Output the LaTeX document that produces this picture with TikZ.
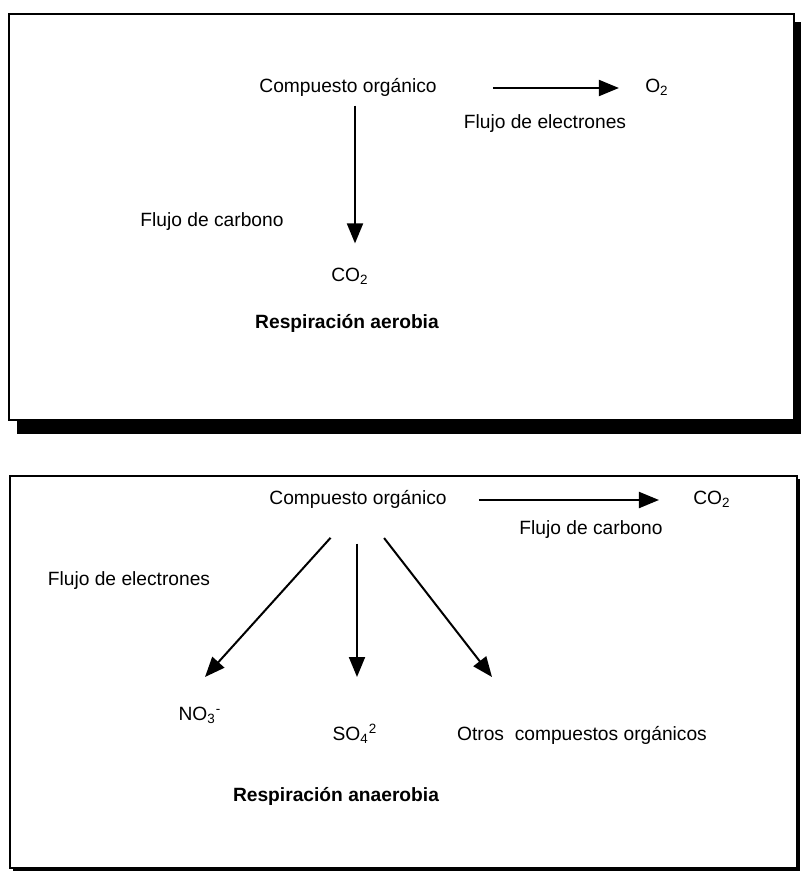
\documentclass[tikz,border=0pt]{standalone}
\usepackage{fontspec}
\setmainfont{Liberation Sans}
\usetikzlibrary{arrows.meta, positioning}

\begin{document}
\begin{tikzpicture}[
  x=0.5pt, y=-0.5pt,
  every node/.style={font=\fontsize{9.6}{11}\selectfont, inner sep=0pt,
                     text height=7pt, text depth=2.2pt},
  flow/.style={line width=1pt, -{Triangle[length=10pt, width=8pt]}},
  frame/.style={draw=black, line width=1pt, fill=white}
]
\useasboundingbox (0,0) rectangle (801,872);

% Top panel with heavy shadow
\fill[black] (17,22) rectangle (801,434);
\draw[frame] (9,14) rectangle (794,420);

% Bottom panel
\fill[black] (13,479) rectangle (800,871);
\draw[frame] (10,476) rectangle (797,868);

% Aerobic respiration
\node (comp1) at (348,88) {Compuesto orgánico};
\node (o2) at (657,88) {O\textsubscript{2}};
\node (flujoE1) at (545,124) {Flujo de electrones};
\node (flujoC1) at (212,222) {Flujo de carbono};
\node (co2a) at (350,277) {CO\textsubscript{2}};
\node[font=\fontsize{9.6}{11}\selectfont\bfseries] (resp1) at (347,324) {Respiración aerobia};

\draw[flow, shorten <=28pt, shorten >=13pt] (comp1.east) -- (o2.west);
\draw[flow, shorten <=4pt, shorten >=12pt] (comp1.south -| 355,0) -- (co2a.north -| 355,0);

% Anaerobic respiration
\node (comp2) at (358,500) {Compuesto orgánico};
\node (co2b) at (712,500) {CO\textsubscript{2}};
\node (flujoC2) at (591,530) {Flujo de carbono};
\node (flujoE2) at (129,581) {Flujo de electrones};
\node (no3) at (200,716) {NO\textsubscript{3}\textsuperscript{-}};
\node (so4) at (355,736) {SO\textsubscript{4}\textsuperscript{2}};
\node (otros) at (582,736) {Otros\ \ compuestos orgánicos};
\node[font=\fontsize{9.6}{11}\selectfont\bfseries] (resp2) at (336,797) {Respiración anaerobia};

\coordinate (tipNO) at (205,677);
\coordinate (tipSO) at (357,677);
\coordinate (tipOt) at (492,677);

\draw[flow, shorten <=16pt, shorten >=17pt] (comp2.east) -- (co2b.west);
\draw[flow, shorten <=19pt] ([xshift=-1pt]comp2.south) -- (tipNO);
\draw[flow, shorten <=17pt] (comp2.south -| tipSO) -- (tipSO);
\draw[flow, shorten <=18pt] ([xshift=2pt]comp2.south) -- (tipOt);

\end{tikzpicture}
\end{document}
